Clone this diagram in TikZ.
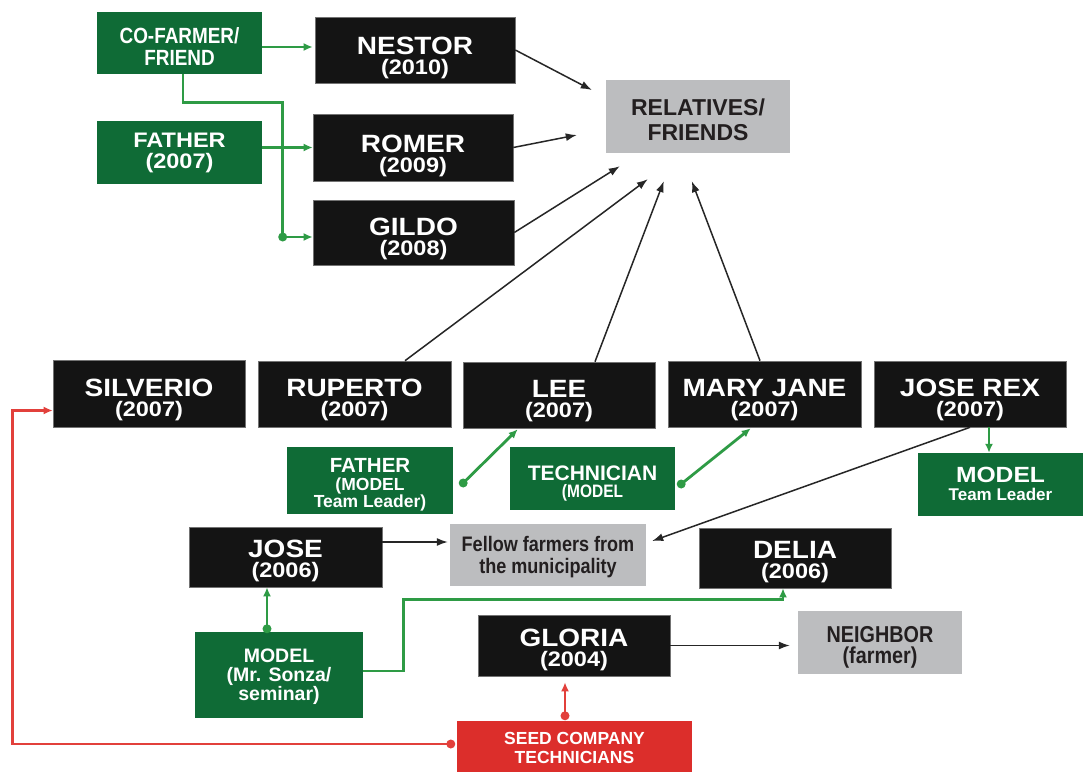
\documentclass[tikz,border=0pt]{standalone}
\usepackage{fontspec}
\setmainfont{Liberation Sans}
\newfontfamily\wideF{Liberation Sans Bold}[FakeStretch=1.12]
\newfontfamily\plainF{Liberation Sans Bold}
\newfontfamily\narrowF{Liberation Sans Bold}[FakeStretch=0.86]
\usetikzlibrary{arrows.meta,calc}

\definecolor{boxblack}{HTML}{141414}
\definecolor{boxgreen}{HTML}{0F6B36}
\definecolor{linegreen}{HTML}{2E9B45}
\definecolor{boxgray}{HTML}{BCBDBF}
\definecolor{boxred}{HTML}{DC2E2B}
\definecolor{linered}{HTML}{E2403B}
\definecolor{ink}{HTML}{231F20}

% fixed baseline distances inside multi-line boxes
\newcommand\tight{\lineskiplimit=-100pt\lineskip=0pt}
\newcommand\fs[1]{\fontsize{#1}{#1}\selectfont}
\newcommand\up[1]{\rule{0pt}{#1pt}}
\newcommand\dn{\rule[-6pt]{0pt}{6pt}}
% name and year of a farmer
\newcommand\person[3][31]{{\wideF\fs{25}\up{#1}#2}\\{\wideF\fs{21}#3\dn}}

\tikzset{
  sz/.style 2 args={minimum width=#1pt,minimum height=#2pt},
  box/.style={rectangle,inner sep=0pt,align=center},
  farmer/.style={box,fill=boxblack,draw=black!55,line width=0.6pt,text=white,
    font=\tight\fontsize{20}{20}\selectfont},
  source/.style={box,fill=boxgreen,text=white},
  group/.style={box,fill=boxgray,text=ink},
  company/.style={box,fill=boxred,text=white},
  bs/.style={font=\tight\fontsize{#1}{#1}\selectfont},
  gline/.style={draw=linegreen,line width=2.8pt},
  garrow/.style={gline,-{Latex[length=9pt,width=8pt]}},
  rline/.style={draw=linered,line width=2.8pt},
  rarrow/.style={rline,-{Latex[length=9pt,width=8pt]}},
  bline/.style={draw=black!85,line width=1.5pt,-{Latex[length=11pt,width=8pt]}},
}

\begin{document}
\begin{tikzpicture}[x=1pt,y=-1pt]
\fill[white] (0,0) rectangle (1084,771);
\useasboundingbox (0,0) rectangle (1084,771);

% farmers
\node[farmer,sz={200}{66}] (nestor) at (415,50) {\person[35]{NESTOR}{(2010)}};
\node[farmer,sz={200}{67}] (romer) at (413,147.5) {\person[35]{ROMER}{(2009)}};
\node[farmer,sz={201}{65}] (gildo) at (413.5,232.5) {\person{GILDO}{(2008)}};
\node[farmer,sz={192}{67}] (silverio) at (149,393.5) {\person{SILVERIO}{(2007)}};
\node[farmer,sz={193}{66}] (ruperto) at (354.5,394) {\person{RUPERTO}{(2007)}};
\node[farmer,sz={192}{66}] (lee) at (559,395) {\person{LEE}{(2007)}};
\node[farmer,sz={193}{66}] (maryjane) at (764.5,394) {\person{MARY JANE}{(2007)}};
\node[farmer,sz={192}{66}] (joserex) at (970,394) {\person{JOSE REX}{(2007)}};
\node[farmer,sz={193}{60}] (jose) at (285.5,557) {\person[27]{JOSE}{(2006)}};
\node[farmer,sz={192}{60}] (delia) at (795,558) {\person[27]{DELIA}{(2006)}};
\node[farmer,sz={192}{61}] (gloria) at (574,645.5) {\person[28]{GLORIA}{(2004)}};

% sources of information
\node[source,bs=22,sz={165}{62}] (cofarmer) at (179.5,43)
  {{\narrowF\fs{22}\up{28}CO-FARMER/}\\{\narrowF\fs{22}FRIEND\dn}};
\node[source,bs=21,sz={165}{63}] (fatherA) at (179.5,152.5)
  {{\wideF\fs{21}\up{16}FATHER}\\{\wideF\fs{21}(2007)\dn}};
\node[source,bs=17.5,sz={166}{64}] (fatherB) at (370,480)
  {{\plainF\fs{20.5}\up{26}FATHER}\\{\plainF\fs{17.5}(MODEL}\\{\plainF\fs{17.5}Team Leader)\dn}};
\node[source,bs=17,sz={165}{63}] (technician) at (592.5,478.5)
  {{\plainF\fs{21}\up{26}TECHNICIAN}\\{\narrowF\fs{18}(MODEL\dn}};
\node[source,bs=18,sz={165}{63}] (modelTL) at (1000.5,484.5)
  {{\wideF\fs{22}\up{19}MODEL}\\{\plainF\fs{17}Team Leader\dn}};
\node[source,bs=19,sz={168}{86}] (modelS) at (279,675)
  {{\plainF\fs{19.5}\up{18}MODEL}\\{\plainF\fs{19.5}(Mr. Sonza/}\\{\plainF\fs{19.5}seminar)\dn}};

% groups the farmers shared with
\node[group,bs=25,sz={184}{73}] (relatives) at (698,116.5)
  {{\plainF\fs{23}\up{28}RELATIVES/}\\{\plainF\fs{23}FRIENDS\dn}};
\node[group,bs=22,sz={196}{62}] (fellow) at (548,555)
  {{\narrowF\fs{21}\up{20}Fellow farmers from}\\{\narrowF\fs{21}the municipality\dn}};
\node[group,bs=21,sz={164}{63}] (neighbor) at (880,642.5)
  {{\narrowF\fs{23}\up{26}NEIGHBOR}\\{\narrowF\fs{23}(farmer)\dn}};

\node[company,bs=19,sz={235}{51}] (seed) at (574.5,746.5)
  {{\plainF\fs{17.5}\up{20}SEED COMPANY}\\{\plainF\fs{17.5}TECHNICIANS\dn}};

% green links: where each farmer learned of it
\draw[garrow] ($(cofarmer.east)+(0,4)$) -- ($(cofarmer.east -| nestor.west)+(-2,4)$);
\coordinate (gj) at ($(gildo.west)+(-30,4.5)$);
\draw[gline] ($(cofarmer.south)+(3.5,0)$) -- ++(0,28) -| (gj);
\draw[garrow] (gj) -- (gj -| gildo.west);
\fill[linegreen] (gj) circle[radius=4.5pt];
\draw[garrow] (fatherA.east |- romer.west) -- (romer.west);

\coordinate (fb) at ($(fatherB.east)+(10,3)$);
\draw[garrow] (fb) -- ($(lee.south west)+(55,1)$);
\fill[linegreen] (fb) circle[radius=4.5pt];

\coordinate (tm) at ($(technician.east)+(6,5.5)$);
\draw[garrow] (tm) -- ($(maryjane.south west)+(83,1)$);
\fill[linegreen] (tm) circle[radius=4.5pt];

\draw[garrow] ($(joserex.south)+(19,0)$) -- ($(modelTL.north)+(-11.5,0)$);

\coordinate (mj) at ($(modelS.north)+(-12,-3)$);
\draw[garrow] (mj) -- ($(jose.south)+(-18.5,0)$);
\fill[linegreen] (mj) circle[radius=4.5pt];

\draw[garrow] ($(modelS.east)+(0,-4)$) -- ++(40,0) |- ($(delia.south)+(-12,11)$)
  -- ($(delia.south)+(-12,0)$);

% red links from the seed company
\coordinate (sd) at ($(seed.west)+(-6,-2.5)$);
\draw[rarrow] (sd) -| ($(silverio.west)+(-40,17)$) -- ($(silverio.west)+(0,17)$);
\fill[linered] (sd) circle[radius=4.5pt];
\coordinate (sg) at ($(seed.north)+(-9.5,-5)$);
\draw[rarrow] (sg) -- ($(gloria.south)+(-9,6)$);
\fill[linered] (sg) circle[radius=4.5pt];

% black links: whom each farmer told
\draw[bline] (nestor.east) -- ($(relatives.west)+(-14,-26.5)$);
\draw[bline] (romer.east) -- ($(relatives.west)+(-29,18.5)$);
\draw[bline] (gildo.east) -- ($(relatives.south west)+(14,13)$);
\draw[bline] ($(ruperto.north)+(50.5,0)$) -- ($(relatives.south west)+(42,26)$);
\draw[bline] ($(lee.north)+(36,0)$) -- ($(relatives.south west)+(58,28)$);
\draw[bline] ($(maryjane.north)+(-4.5,0)$) -- ($(relatives.south west)+(86,28)$);
\draw[bline] (joserex.south) -- ($(fellow.east)+(6,-14)$);
\draw[bline] ($(jose.east)+(0,-15)$) -- ($(fellow.west)+(-2,-13)$);
\draw[bline] (gloria.east) -- ($(gloria.east -| neighbor.west)+(-8,0)$);
\end{tikzpicture}
\end{document}
